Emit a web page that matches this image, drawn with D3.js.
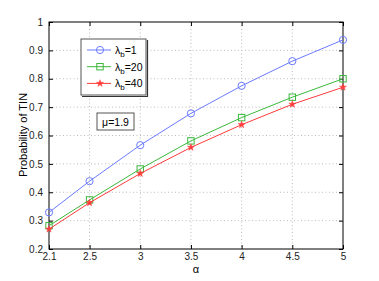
<!DOCTYPE html>
<html>
<head>
<meta charset="utf-8">
<script src="https://cdn.jsdelivr.net/npm/d3@7"></script>
<style>
    body { margin: 0; background: #fff; }
    svg { font-family: "Liberation Sans", Arial, sans-serif; }
    .tick text { font-size: 10px; fill: #222; }
    .grid line { stroke: #bbb; stroke-dasharray: 1 2.5; }
</style>
</head>
<body>
<svg id="chart" width="379" height="281"></svg>
<script>
'use strict';

var alphas = [2.1, 2.5, 3, 3.5, 4, 4.5, 5];
var xTicks = [2.1, 2.5, 3, 3.5, 4, 4.5, 5];
var yTicks = [0.2, 0.3, 0.4, 0.5, 0.6, 0.7, 0.8, 0.9, 1];
var lambda1 = [0.329, 0.439, 0.566, 0.678, 0.775, 0.862, 0.937];
var lambda20 = [0.282, 0.373, 0.482, 0.581, 0.663, 0.735, 0.800];
var lambda40 = [0.270, 0.363, 0.466, 0.558, 0.638, 0.710, 0.770];
var seriesNames = ['1', '20', '40'];
var seriesColors = ['#6b7bff', '#3cb83c', '#ff3b3b'];
var seriesMarkers = ['circle', 'square', 'star'];

var PLOT_LEFT = 49, PLOT_RIGHT = 343, PLOT_TOP = 22, PLOT_BOTTOM = 249;

var svg = d3.select('#chart');
var x = d3.scaleLinear().domain([2.1, 5]).range([PLOT_LEFT, PLOT_RIGHT]);
var y = d3.scaleLinear().domain([0.2, 1]).range([PLOT_BOTTOM, PLOT_TOP]);

// grid
var grid = svg.append('g').attr('class', 'grid');
grid.selectAll('.gx').data(xTicks.slice(1, -1)).enter().append('line')
    .attr('x1', function (d) { return x(d); }).attr('x2', function (d) { return x(d); })
    .attr('y1', PLOT_TOP).attr('y2', PLOT_BOTTOM);
grid.selectAll('.gy').data(yTicks.slice(1, -1)).enter().append('line')
    .attr('x1', PLOT_LEFT).attr('x2', PLOT_RIGHT)
    .attr('y1', function (d) { return y(d); }).attr('y2', function (d) { return y(d); });

// box
svg.append('rect').attr('x', PLOT_LEFT).attr('y', PLOT_TOP)
    .attr('width', PLOT_RIGHT - PLOT_LEFT).attr('height', PLOT_BOTTOM - PLOT_TOP)
    .attr('fill', 'none').attr('stroke', '#000').attr('stroke-width', 1);

// axes
var xAxis = d3.axisBottom(x).tickValues(xTicks).tickSize(-4).tickPadding(4)
    .tickFormat(function (d) { return String(d); });
svg.append('g').attr('transform', 'translate(0,' + PLOT_BOTTOM + ')').call(xAxis)
    .call(function (g) { g.select('.domain').remove(); });
var xTop = d3.axisTop(x).tickValues(xTicks).tickSize(-4).tickFormat('');
svg.append('g').attr('transform', 'translate(0,' + PLOT_TOP + ')').call(xTop)
    .call(function (g) { g.select('.domain').remove(); });

var yAxis = d3.axisLeft(y).tickValues(yTicks).tickSize(-4).tickPadding(6)
    .tickFormat(function (d) { return String(d); });
svg.append('g').attr('transform', 'translate(' + PLOT_LEFT + ',0)').call(yAxis)
    .call(function (g) { g.select('.domain').remove(); });
var yRight = d3.axisRight(y).tickValues(yTicks).tickSize(-4).tickFormat('');
svg.append('g').attr('transform', 'translate(' + PLOT_RIGHT + ',0)').call(yRight)
    .call(function (g) { g.select('.domain').remove(); });

// axis labels
svg.append('text').attr('x', (PLOT_LEFT + PLOT_RIGHT) / 2).attr('y', 273)
    .attr('text-anchor', 'middle').attr('font-size', 11).text('α');
svg.append('text').attr('transform', 'translate(27,135) rotate(-90)')
    .attr('text-anchor', 'middle').attr('font-size', 11).text('Probability of TIN');

function marker(g, type, cx, cy, color) {
    if (type === 'circle') {
        g.append('circle').attr('cx', cx).attr('cy', cy).attr('r', 3.6)
            .attr('fill', 'none').attr('stroke', color);
    } else if (type === 'square') {
        g.append('rect').attr('x', cx - 3.2).attr('y', cy - 3.2).attr('width', 6.4).attr('height', 6.4)
            .attr('fill', 'none').attr('stroke', color);
    } else {
        g.append('path').attr('d', d3.symbol().type(d3.symbolStar).size(15)())
            .attr('transform', 'translate(' + cx + ',' + cy + ')')
            .attr('fill', color).attr('stroke', color).attr('stroke-width', 0.5);
    }
}

// series
var allSeries = [lambda1, lambda20, lambda40];
var line = d3.line().x(function (d, i) { return x(alphas[i]); }).y(function (d) { return y(d); });
allSeries.forEach(function (vals, k) {
    var g = svg.append('g');
    g.append('path').datum(vals).attr('d', line)
        .attr('fill', 'none').attr('stroke', seriesColors[k]).attr('stroke-width', 1);
    vals.forEach(function (v, i) {
        marker(g, seriesMarkers[k], x(alphas[i]), y(v), seriesColors[k]);
    });
});

// legend
var lg = svg.append('g');
lg.append('rect').attr('x', 81).attr('y', 39).attr('width', 65).attr('height', 56)
    .attr('fill', '#fff').attr('stroke', '#555').attr('stroke-width', 1);
lg.append('path').attr('d', 'M82,96.5H147.5V40').attr('fill', 'none').attr('stroke', '#333').attr('stroke-width', 1.2);
seriesNames.forEach(function (name, k) {
    var ly = 50 + k * 16.7;
    lg.append('line').attr('x1', 87).attr('x2', 111).attr('y1', ly).attr('y2', ly)
        .attr('stroke', seriesColors[k]).attr('stroke-width', 1);
    marker(lg, seriesMarkers[k], 100, ly, seriesColors[k]);
    var t = lg.append('text').attr('x', 115).attr('y', ly + 4).attr('font-size', 10.5);
    t.append('tspan').text('λ');
    t.append('tspan').attr('font-size', 8).attr('dy', 3).text('b');
    t.append('tspan').attr('dy', -3).text('=' + name);
});

// annotation
var an = svg.append('g');
an.append('rect').attr('x', 97).attr('y', 113).attr('width', 37).attr('height', 17)
    .attr('fill', '#fff').attr('stroke', '#555').attr('stroke-width', 1);
an.append('text').attr('x', 115.5).attr('y', 125.5).attr('text-anchor', 'middle')
    .attr('font-size', 10.5).text('μ=1.9');
</script>
</body>
</html>
